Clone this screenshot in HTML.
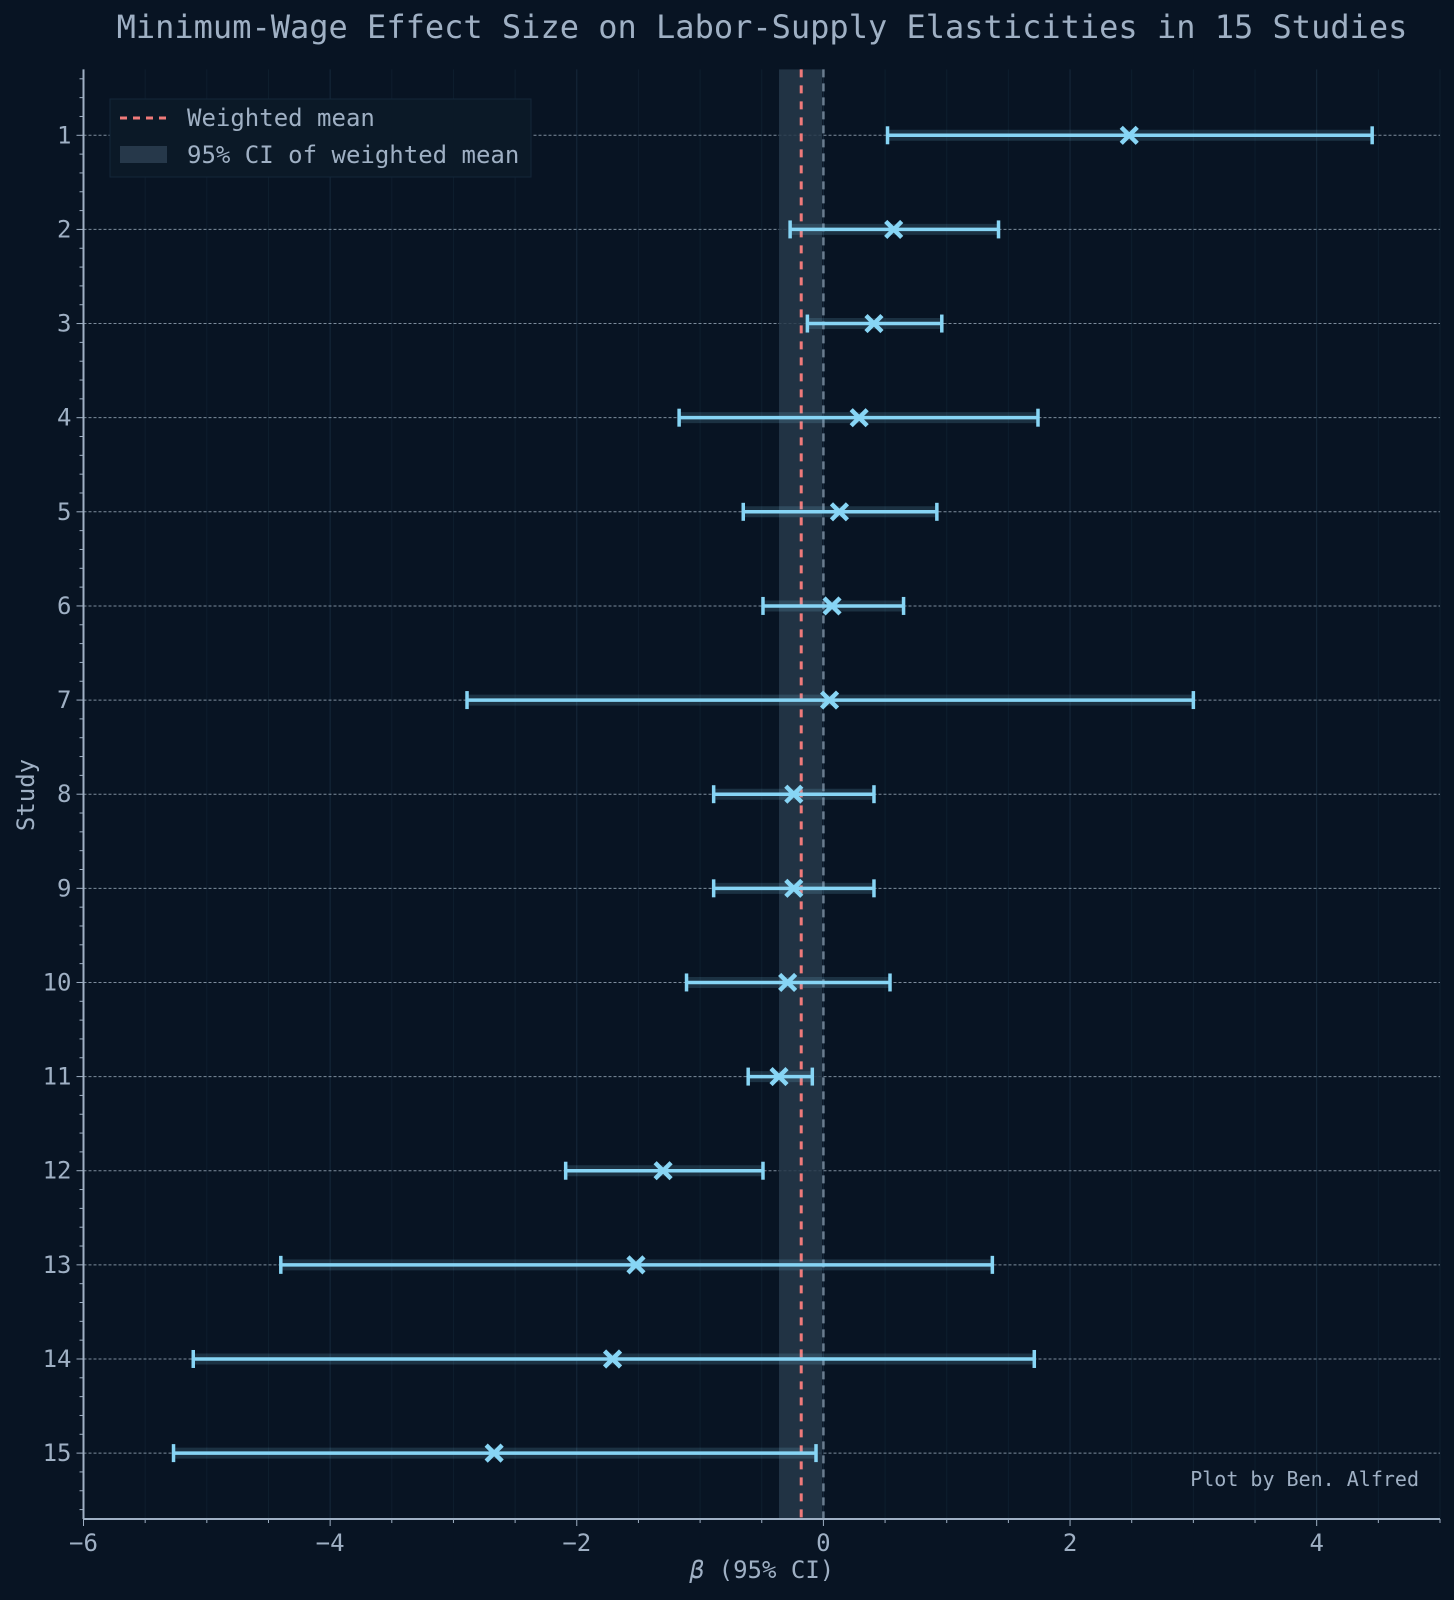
<!DOCTYPE html>
<html><head><meta charset="utf-8"><style>
html,body{margin:0;padding:0;background:#081423;}
svg{display:block;font-family:"DejaVu Sans Mono","Liberation Mono",monospace;}
</style></head><body>
<svg id="chart" width="1454" height="1600" viewBox="0 0 1454 1600">
<rect width="1454" height="1600" fill="#081423"/>
<text x="762" y="38" text-anchor="middle" font-size="32" fill="#9fb0c4">Minimum-Wage Effect Size on Labor-Supply Elasticities in 15 Studies</text>
<g id="grid"></g><g id="band"></g><g id="bars"></g><g id="axes"></g>
<g>
<rect x="110" y="99" width="421" height="78" fill="#0b1927" stroke="#13263a" stroke-width="1"/>
<line x1="120" y1="118" x2="166" y2="118" stroke="#f07a7a" stroke-width="3" stroke-dasharray="7,6"/>
<text x="187" y="126" font-size="24" fill="#9fb0c4">Weighted mean</text>
<rect x="120" y="146" width="47" height="17" fill="#26384a"/>
<text x="187" y="163" font-size="24" fill="#9fb0c4">95% CI of weighted mean</text>
</g>
<text x="1419" y="1486" text-anchor="end" font-size="20" fill="#9fb0c4">Plot by Ben. Alfred</text>
<text x="762" y="1578" text-anchor="middle" font-size="24" fill="#9fb0c4"><tspan font-style="italic">β</tspan> (95% CI)</text>
<text x="0" y="0" transform="translate(34,795) rotate(-90)" text-anchor="middle" font-size="24" fill="#9fb0c4">Study</text>
</svg>
<script>
const studies=[1,2,3,4,5,6,7,8,9,10,11,12,13,14,15];
const estimates=[2.48,0.57,0.41,0.29,0.13,0.07,0.05,-0.24,-0.24,-0.29,-0.36,-1.30,-1.52,-1.71,-2.67];
const lower=[0.52,-0.27,-0.13,-1.17,-0.65,-0.49,-2.89,-0.89,-0.89,-1.11,-0.61,-2.09,-4.40,-5.11,-5.27];
const upper=[4.45,1.42,0.96,1.74,0.92,0.65,3.00,0.41,0.41,0.54,-0.09,-0.49,1.37,1.71,-0.06];
const weightedMean=-0.18;
const ciMean=[-0.36,-0.01];
const xTicks=[-6,-4,-2,0,2,4];
const NS="http://www.w3.org/2000/svg";
const L=83.5,R=1440,T=69.4,B=1519;
const xMin=-6,xMax=5,yMin=0.3,yMax=15.7;
const X=v=>L+(v-xMin)/(xMax-xMin)*(R-L);
const Y=v=>T+(v-yMin)/(yMax-yMin)*(B-T);
function mk(tag,attrs,parent){const e=document.createElementNS(NS,tag);for(const k in attrs)e.setAttribute(k,attrs[k]);parent.appendChild(e);return e;}
const grid=document.getElementById('grid'),band=document.getElementById('band'),bars=document.getElementById('bars'),axes=document.getElementById('axes');
for(let v=-6;v<=5;v+=0.5){
  const major=xTicks.includes(v);
  const g=mk('line',{x1:X(v),x2:X(v),y1:T,y2:B,stroke:major?'#16293b':'#0e1e2e','stroke-width':1},grid);
  
  
  const t=mk('line',{x1:X(v),x2:X(v),y1:B,y2:B+(major?7:4),stroke:'#9fb0c4','stroke-width':1},axes);
  
  
}
xTicks.forEach(v=>{
  const t=mk('text',{x:X(v),y:B+32,'text-anchor':'middle','font-size':24,fill:'#9fb0c4'},axes);
  t.textContent=v<0?'−'+Math.abs(v):String(v);
  
  
});
for(let v=0.4;v<=15.61;v+=0.2){
  const major=Math.abs(v-Math.round(v))<0.01&&Math.round(v)>=1;
  const t=mk('line',{x1:L-(major?7:4),x2:L,y1:Y(v),y2:Y(v),stroke:'#9fb0c4','stroke-width':1},axes);
  
  
}
studies.forEach(s=>{
  const g=mk('line',{x1:L,x2:R,y1:Y(s),y2:Y(s),stroke:'#8a9aaa','stroke-width':1,'stroke-dasharray':'3,2',opacity:0.9},grid);
  
  
  const t=mk('text',{x:L-12,y:Y(s)+8,'text-anchor':'end','font-size':24,fill:'#9fb0c4'},axes);
  t.textContent=s;
  
  
});
const ci=mk('rect',{x:X(ciMean[0]),y:T,width:X(ciMean[1])-X(ciMean[0]),height:B-T,fill:'#26384a',opacity:0.85},band);


const z=mk('line',{x1:X(0),x2:X(0),y1:T,y2:B,stroke:'#6a7d90','stroke-width':2.5,'stroke-dasharray':'8,6'},band);


const m=mk('line',{x1:X(weightedMean),x2:X(weightedMean),y1:T,y2:B,stroke:'#f07a7a','stroke-width':3,'stroke-dasharray':'8,8'},band);


studies.forEach((s,i)=>{
  const y=Y(s),x1=X(lower[i]),x2=X(upper[i]),xp=X(estimates[i]);
  const g=mk('g',{},bars);
  
  
  mk('line',{x1:x1,x2:x2,y1:y,y2:y,stroke:'#87d5f5','stroke-width':11,opacity:0.15},g);
  mk('line',{x1:x1,x2:x2,y1:y,y2:y,stroke:'#87d5f5','stroke-width':3.5},g);
  mk('line',{x1:x1,x2:x1,y1:y-9,y2:y+9,stroke:'#87d5f5','stroke-width':3.5},g);
  mk('line',{x1:x2,x2:x2,y1:y-9,y2:y+9,stroke:'#87d5f5','stroke-width':3.5},g);
  const p=mk('path',{d:`M${xp-8},${y-8}L${xp+8},${y+8}M${xp-8},${y+8}L${xp+8},${y-8}`,stroke:'#87d5f5','stroke-width':4.5},g);
  
  
});
const ax1=mk('line',{x1:L,x2:R,y1:B,y2:B,stroke:'#9fb0c4','stroke-width':2},axes);


const ax2=mk('line',{x1:L,x2:L,y1:T,y2:B,stroke:'#9fb0c4','stroke-width':2},axes);


</script>
</body></html>
